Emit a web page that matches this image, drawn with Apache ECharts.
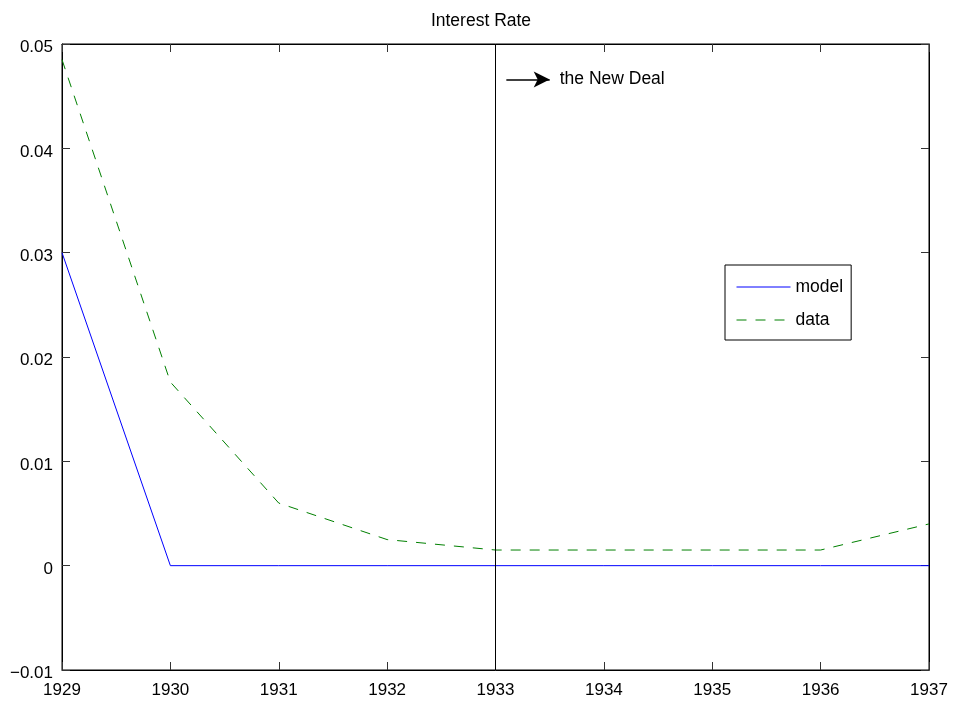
<!DOCTYPE html>
<html><head><meta charset="utf-8">
<script src="https://cdn.jsdelivr.net/npm/echarts@6/dist/echarts.min.js"></script>
<style>html,body{margin:0;padding:0;background:#fff}#c{width:962px;height:705px}</style>
</head><body><div id="c"></div>
<script>
const years = [1929, 1930, 1931, 1932, 1933, 1934, 1935, 1936, 1937];
const modelValues = [0.03, 0, 0, 0, 0, 0, 0, 0, 0];
const dataValues = [0.0485, 0.0176, 0.006, 0.0025, 0.0015, 0.0015, 0.0015, 0.0015, 0.004];
const yTicks = [-0.01, 0, 0.01, 0.02, 0.03, 0.04, 0.05];
const newDealYear = 1933;
const arrowStart = [1933.1, 0.0466];
const arrowEnd = [1933.5, 0.0466];
const font = 'Liberation Sans, Arial, sans-serif';

const chart = echarts.init(document.getElementById('c'), null, {renderer: 'canvas'});
const fmtY = v => {
  if (Math.abs(v) < 1e-9) return '{a|0}';
  return '{a|' + (Math.round(v * 100) / 100).toFixed(2).replace('-', '\u2212') + '}';
};
const tickStyle = {show: true, inside: true, length: 8, lineStyle: {color: '#333', width: 1}};
chart.setOption({
  animation: false,
  backgroundColor: '#fff',
  title: {text: 'Interest Rate', left: 'center', top: 7, textStyle: {fontFamily: font, fontSize: 17.5, fontWeight: 'normal', color: '#000'}},
  grid: {left: 62, right: 33, top: 44, bottom: 35, show: true, borderColor: '#000', borderWidth: 1, backgroundColor: 'transparent'},
  legend: {
    orient: 'vertical', left: 725, top: 265,
    data: ['model', 'data'],
    borderColor: '#000', borderWidth: 1, padding: [13, 8, 11, 11],
    itemWidth: 54, itemHeight: 14, itemGap: 15,
    itemStyle: {opacity: 0},
    lineStyle: {width: 1},
    textStyle: {fontFamily: font, fontSize: 17.5, color: '#000'},
    backgroundColor: '#fff'
  },
  xAxis: [{
    type: 'value', min: 1929, max: 1937, interval: 1, position: 'bottom',
    axisLine: {show: true, onZero: false, lineStyle: {color: '#000'}},
    axisTick: tickStyle, splitLine: {show: false},
    axisLabel: {fontFamily: font, fontSize: 17, color: '#000', margin: 12, formatter: v => String(v)}
  }, {
    type: 'value', min: 1929, max: 1937, interval: 1, position: 'top',
    axisLine: {show: true, onZero: false, lineStyle: {color: '#000'}},
    axisTick: tickStyle, splitLine: {show: false}, axisLabel: {show: false}
  }],
  yAxis: [{
    type: 'value', min: -0.01, max: 0.05, interval: 0.01, position: 'left',
    axisLine: {show: true, onZero: false, lineStyle: {color: '#000'}},
    axisTick: tickStyle, splitLine: {show: false},
    axisLabel: {fontFamily: font, fontSize: 17, color: '#000', margin: 9, formatter: fmtY,
      rich: {a: {fontFamily: font, fontSize: 17, color: '#000', padding: [7, 0, 0, 0]}}}
  }, {
    type: 'value', min: -0.01, max: 0.05, interval: 0.01, position: 'right',
    axisLine: {show: true, onZero: false, lineStyle: {color: '#000'}},
    axisTick: tickStyle, splitLine: {show: false}, axisLabel: {show: false}
  }],
  series: [{
    name: 'model', type: 'line', symbol: 'none',
    data: years.map((y, i) => [y, modelValues[i]]),
    lineStyle: {color: '#0000ff', width: 1}, itemStyle: {color: '#0000ff'},
    markLine: {
      silent: true, symbol: 'none', animation: false,
      lineStyle: {color: '#000', width: 1, type: 'solid'},
      label: {show: false},
      data: [{xAxis: newDealYear}]
    }
  }, {
    name: 'data', type: 'line', symbol: 'none',
    data: years.map((y, i) => [y, dataValues[i]]),
    lineStyle: {color: '#008000', width: 1, type: [10, 9]}, itemStyle: {color: '#008000'},
    markLine: {
      silent: true, animation: false,
      symbol: ['none', 'arrow'], symbolSize: [12, 16],
      lineStyle: {color: '#000', width: 1.5, type: 'solid'},
      label: {show: true, position: 'end', formatter: 'the New Deal', fontFamily: font, fontSize: 17.5, color: '#000', distance: 10},
      data: [[{coord: arrowStart}, {coord: arrowEnd}]]
    }
  }]
});
</script></body></html>
